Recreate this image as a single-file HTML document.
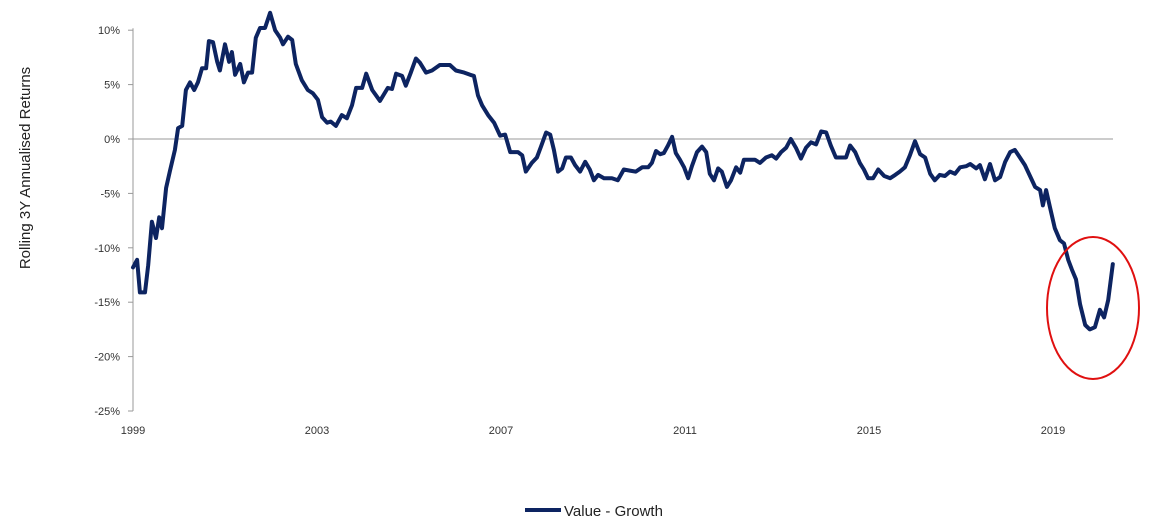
<!DOCTYPE html>
<html><head><meta charset="utf-8">
<style>
html,body{margin:0;padding:0;background:#fff;}
svg{display:block;font-family:"Liberation Sans",Calibri,sans-serif;}
</style></head>
<body>
<svg id="chart" width="1153" height="526" viewBox="0 0 1153 526" xmlns="http://www.w3.org/2000/svg">
<text transform="translate(30,168) rotate(-90)" text-anchor="middle" font-size="15" fill="#222">Rolling 3Y Annualised Returns</text>
<g id="yticks"></g>
<g id="xticks"></g>
<g id="series"></g>
<ellipse cx="1093" cy="308" rx="46" ry="71" fill="none" stroke="#e01010" stroke-width="2"/>
<g>
<line x1="525" y1="510" x2="561" y2="510" stroke="#0d2461" stroke-width="4"/>
<text x="564" y="516" font-size="15" fill="#222">Value - Growth</text>
</g>
</svg>
<script>
const years=[1999.00,1999.09,1999.15,1999.26,1999.33,1999.41,1999.50,1999.57,1999.63,1999.72,1999.80,1999.91,1999.98,2000.07,2000.15,2000.24,2000.33,2000.41,2000.50,2000.59,2000.65,2000.74,2000.83,2000.89,2001.00,2001.09,2001.15,2001.22,2001.33,2001.41,2001.50,2001.59,2001.67,2001.76,2001.87,2001.98,2002.09,2002.20,2002.26,2002.37,2002.46,2002.54,2002.67,2002.80,2002.91,2003.02,2003.11,2003.22,2003.30,2003.41,2003.54,2003.65,2003.76,2003.85,2003.98,2004.07,2004.20,2004.37,2004.54,2004.63,2004.72,2004.85,2004.93,2005.04,2005.15,2005.24,2005.37,2005.50,2005.67,2005.89,2006.02,2006.20,2006.33,2006.41,2006.50,2006.59,2006.72,2006.85,2006.98,2007.09,2007.20,2007.37,2007.46,2007.54,2007.67,2007.78,2007.87,2007.98,2008.07,2008.15,2008.24,2008.33,2008.41,2008.52,2008.61,2008.72,2008.83,2008.93,2009.02,2009.11,2009.24,2009.41,2009.54,2009.67,2009.80,2009.93,2010.07,2010.20,2010.28,2010.37,2010.46,2010.54,2010.63,2010.72,2010.80,2010.89,2010.98,2011.07,2011.15,2011.26,2011.37,2011.46,2011.54,2011.63,2011.72,2011.80,2011.91,2012.00,2012.11,2012.20,2012.28,2012.41,2012.52,2012.63,2012.76,2012.89,2012.98,2013.09,2013.20,2013.30,2013.41,2013.52,2013.63,2013.74,2013.85,2013.96,2014.07,2014.17,2014.28,2014.39,2014.50,2014.59,2014.70,2014.80,2014.89,2014.98,2015.09,2015.20,2015.33,2015.46,2015.57,2015.67,2015.78,2015.89,2016.00,2016.11,2016.22,2016.33,2016.43,2016.54,2016.65,2016.76,2016.87,2016.98,2017.11,2017.20,2017.33,2017.41,2017.52,2017.63,2017.74,2017.85,2017.96,2018.07,2018.17,2018.28,2018.39,2018.50,2018.61,2018.72,2018.78,2018.85,2018.93,2019.04,2019.15,2019.24,2019.33,2019.41,2019.50,2019.59,2019.70,2019.80,2019.91,2020.02,2020.11,2020.20,2020.30];
const values=[-11.8,-11.1,-14.1,-14.1,-11.6,-7.6,-9.1,-7.2,-8.2,-4.5,-3.0,-1.0,1.0,1.2,4.5,5.2,4.5,5.2,6.5,6.5,9.0,8.9,7.1,6.3,8.7,7.1,8.0,5.9,6.9,5.2,6.1,6.1,9.3,10.2,10.2,11.6,10.0,9.3,8.7,9.4,9.1,6.9,5.4,4.5,4.2,3.6,2.0,1.5,1.6,1.2,2.2,1.9,3.1,4.7,4.7,6.0,4.5,3.5,4.7,4.6,6.0,5.8,4.9,6.1,7.4,7.0,6.1,6.3,6.8,6.8,6.3,6.1,5.9,5.8,4.0,3.1,2.2,1.5,0.3,0.4,-1.2,-1.2,-1.5,-3.0,-2.2,-1.7,-0.7,0.6,0.4,-1.0,-3.0,-2.7,-1.7,-1.7,-2.4,-3.0,-2.1,-2.8,-3.8,-3.3,-3.6,-3.6,-3.8,-2.8,-2.9,-3.0,-2.6,-2.6,-2.2,-1.1,-1.4,-1.3,-0.6,0.2,-1.3,-1.9,-2.6,-3.6,-2.5,-1.2,-0.7,-1.2,-3.2,-3.8,-2.7,-3.0,-4.4,-3.8,-2.6,-3.1,-1.9,-1.9,-1.9,-2.2,-1.7,-1.5,-1.8,-1.2,-0.8,0.0,-0.8,-1.8,-0.8,-0.3,-0.5,0.7,0.6,-0.6,-1.7,-1.7,-1.7,-0.6,-1.2,-2.2,-2.8,-3.6,-3.6,-2.8,-3.4,-3.6,-3.3,-3.0,-2.6,-1.5,-0.2,-1.4,-1.7,-3.2,-3.8,-3.3,-3.4,-3.0,-3.2,-2.6,-2.5,-2.3,-2.7,-2.4,-3.7,-2.3,-3.8,-3.5,-2.1,-1.2,-1.0,-1.7,-2.4,-3.4,-4.4,-4.7,-6.1,-4.7,-6.2,-8.2,-9.3,-9.6,-11.1,-12.0,-12.9,-15.2,-17.1,-17.5,-17.3,-15.7,-16.4,-14.8,-11.5];
const yTicks=[10,5,0,-5,-10,-15,-20,-25];
const xTicks=[1999,2003,2007,2011,2015,2019];
const NS="http://www.w3.org/2000/svg";
const X=y=>133+(y-1999)*46;
const Y=v=>139-v*10.88;
function mk(tag,attrs,parent){const e=document.createElementNS(NS,tag);for(const k in attrs)e.setAttribute(k,attrs[k]);parent.appendChild(e);return e;}
const yg=document.getElementById('yticks'),xg=document.getElementById('xticks'),sg=document.getElementById('series');
let a=mk('line',{x1:133,y1:Y(10)-2,x2:133,y2:Y(-25),stroke:'#999','stroke-width':1},yg);


yTicks.forEach(v=>{
  const t=mk('text',{x:120,y:Y(v)+4,'text-anchor':'end','font-size':11,fill:'#333'},yg);
  t.textContent=v+'%';
  
  
  const tk=mk('line',{x1:128,y1:Y(v),x2:133,y2:Y(v),stroke:'#999'},yg);
  
  
});
const zl=mk('line',{x1:133,y1:Y(0),x2:1113,y2:Y(0),stroke:'#999','stroke-width':1},xg);


xTicks.forEach(yr=>{
  const t=mk('text',{x:X(yr),y:434,'text-anchor':'middle','font-size':11,fill:'#333'},xg);
  t.textContent=yr;
  
  
});
const p=mk('polyline',{points:years.map((y,i)=>X(y).toFixed(1)+','+Y(values[i]).toFixed(1)).join(' '),fill:'none',stroke:'#0d2461','stroke-width':4,'stroke-linejoin':'round','stroke-linecap':'round'},sg);


</script>
</body></html>
